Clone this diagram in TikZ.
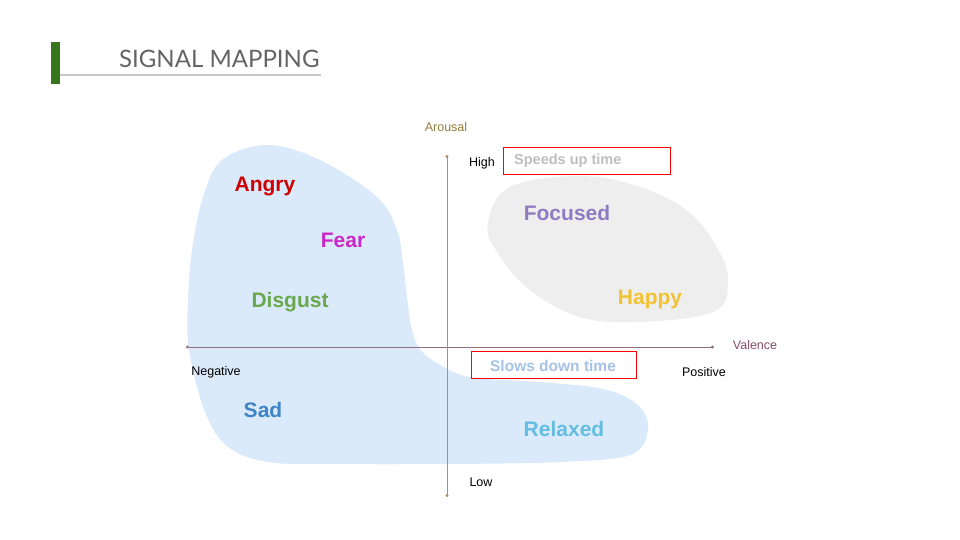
\documentclass[tikz,border=0pt]{standalone}
\usepackage{fontspec}
\setmainfont{Liberation Sans}
\newfontfamily\titlefont{Lato}
\usetikzlibrary{arrows.meta}
\definecolor{blobblue}{RGB}{219,234,251}
\definecolor{blobgray}{RGB}{238,238,238}
\definecolor{barGreen}{RGB}{56,118,29}
\definecolor{titleGray}{RGB}{100,100,100}
\definecolor{ruleGray}{RGB}{200,200,200}
\definecolor{vaxis}{RGB}{165,148,100}
\definecolor{haxis}{RGB}{145,112,128}
\definecolor{arousalC}{RGB}{145,125,60}
\definecolor{valenceC}{RGB}{135,75,105}
\definecolor{angryC}{RGB}{204,0,0}
\definecolor{fearC}{RGB}{200,40,200}
\definecolor{disgustC}{RGB}{106,168,79}
\definecolor{sadC}{RGB}{61,133,198}
\definecolor{relaxedC}{RGB}{100,190,225}
\definecolor{focusedC}{RGB}{142,124,195}
\definecolor{happyC}{RGB}{241,194,50}
\definecolor{speedC}{RGB}{190,190,190}
\definecolor{slowC}{RGB}{164,194,230}
\tikzset{
  emo/.style={font=\fontsize{21}{25}\selectfont\bfseries, inner sep=0pt},
  small/.style={font=\fontsize{12.5}{15}\selectfont, inner sep=0pt},
  redbox/.style={draw=red, line width=0.9pt, minimum height=27pt, inner sep=0pt},
  axisline/.style={line width=1pt, {Circle[length=3pt]}-{Circle[length=3pt]}}
}
\begin{document}
\begin{tikzpicture}[x=1pt,y=-1pt]
\useasboundingbox (0,0) rectangle (960,540);
% header
\fill[barGreen] (51,42) rectangle (60,84);
\draw[ruleGray, line width=1.6pt] (60,75) -- (321,75);
\node[anchor=base west, inner sep=0pt, text=titleGray, font=\titlefont\fontsize{24}{28}\selectfont] (title) at (119,68) {SIGNAL MAPPING};
% blue blob
\fill[blobblue] plot[smooth cycle, tension=0.6] coordinates {
 (267,145) (320,160) (377,197) (397,230) (403,263) (407,297) (412,330)
 (420,349) (437,363) (470,377) (540,382) (603,389) (638,405) (648,430)
 (630,455) (560,462) (450,464) (330,464) (268,462) (228,447) (205,412)
 (189,350) (188,300) (192,250) (203,197) (222,160)};
% gray blob
\fill[blobgray] plot[smooth cycle, tension=0.65] coordinates {
 (488,223) (510,187) (580,176) (640,187) (690,213) (720,253) (728,285)
 (713,312) (640,322) (580,317) (530,290) (497,252)};
% axes
\coordinate (vtop) at (447,155);
\coordinate (vbot) at (447,497);
\coordinate (hleft) at (186,347);
\coordinate (hright) at (714,347);
\draw[axisline, haxis] (hleft) -- (hright);
\draw[axisline, vaxis] (vtop) -- (vbot);
% axis labels
\node[small, text=arousalC] (arousal) at (446,127) {Arousal};
\node[small] (high) at (482,163) {High};
\node[small] (low) at (481,482) {Low};
\node[small] (negative) at (216,372) {Negative};
\node[small] (positive) at (704,372) {Positive};
\node[small, text=valenceC] (valence) at (755,345) {Valence};
% boxes
\node[redbox, minimum width=167pt] (speedbox) at (586.5,160.5) {};
\node[anchor=west, inner sep=0pt, text=speedC, font=\fontsize{14.5}{17}\selectfont\bfseries] (speed) at (514,161) {Speeds up time};
\node[redbox, minimum width=165pt] (slowbox) at (553.5,365) {};
\node[inner sep=0pt, text=slowC, font=\fontsize{15.5}{18}\selectfont\bfseries] (slow) at (553,366) {Slows down time};
% emotions
\node[emo, text=angryC] (angry) at (265,187) {Angry};
\node[emo, text=fearC] (fear) at (343,240) {Fear};
\node[emo, text=disgustC] (disgust) at (290,302) {Disgust};
\node[emo, text=sadC] (sad) at (263,410) {Sad};
\node[emo, text=relaxedC] (relaxed) at (564,429) {Relaxed};
\node[emo, text=focusedC] (focused) at (567,213) {Focused};
\node[emo, text=happyC] (happy) at (650,299) {Happy};
\end{tikzpicture}
\end{document}
